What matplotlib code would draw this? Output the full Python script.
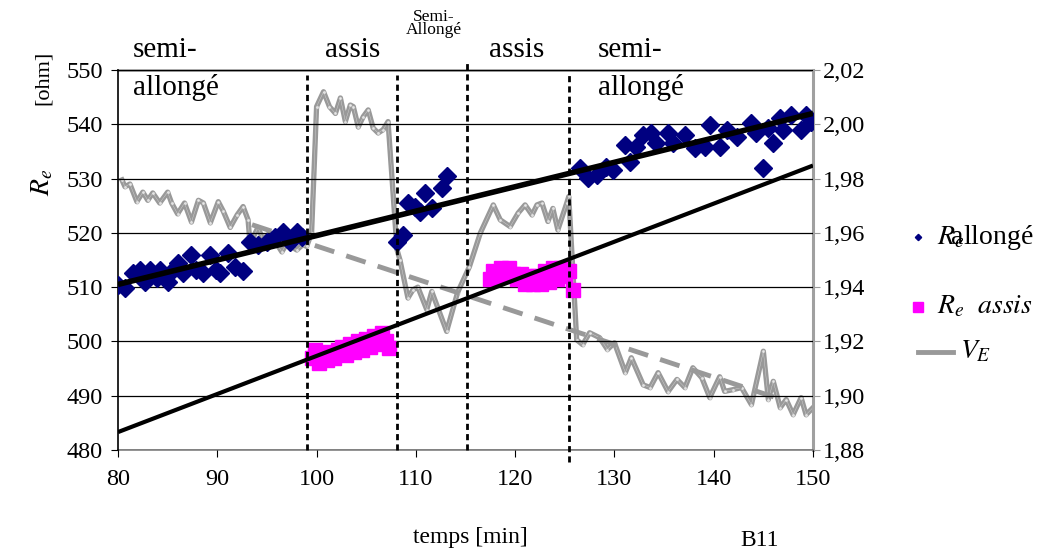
import matplotlib
matplotlib.use("Agg")
import matplotlib.pyplot as plt
from matplotlib.lines import Line2D
from matplotlib.ticker import FuncFormatter, MultipleLocator

plt.rcParams['font.family'] = ['Liberation Serif', 'DejaVu Serif']
plt.rcParams['mathtext.fontset'] = 'stix'

# R_e allongé (blue diamonds)
t_allonge = [80.0, 80.7, 81.5, 82.2, 82.7, 83.2, 83.9, 84.2, 85.0, 85.2, 86.0, 86.5,
             87.4, 87.9, 88.6, 89.3, 89.9, 90.3, 91.1, 91.8, 92.6, 93.3, 94.1, 95.0,
             95.8, 96.6, 97.3, 98.0, 98.5,
             108.1, 108.7, 109.2, 109.9, 110.4, 110.9, 111.6, 112.6, 113.1,
             126.5, 127.3, 128.2, 129.2, 129.9, 131.1, 131.6, 132.2, 132.9, 133.7,
             134.2, 135.4, 135.9, 137.1, 138.1, 139.1, 139.6, 140.6, 141.3, 142.3,
             143.8, 144.3, 145.0, 145.5, 146.0, 146.7, 147.0, 147.8, 148.8, 149.3, 149.8]
r_allonge = [510.4, 509.9, 512.6, 513.2, 511.0, 513.2, 511.7, 513.2, 511.0, 512.6, 514.4, 512.6,
             515.9, 513.2, 512.6, 515.9, 513.2, 512.6, 516.3, 513.8, 512.9, 518.4, 517.8, 518.4,
             519.3, 520.2, 518.4, 520.2, 519.3,
             518.4, 519.6, 525.5, 524.8, 523.9, 527.3, 524.6, 528.3, 530.4,
             532.0, 530.1, 530.7, 532.2, 531.6, 536.2, 533.1, 535.9, 538.0, 538.4,
             536.6, 538.4, 536.6, 538.0, 535.6, 535.9, 539.9, 535.9, 539.0, 537.7,
             540.2, 538.4, 532.0, 539.3, 536.6, 541.2, 539.0, 541.7, 539.0, 541.7, 540.5]

# R_e assis (magenta squares)
t_assis = [99.5, 99.8, 100.2, 100.6, 101.0, 101.4, 101.8, 102.2, 102.6, 103.0, 103.4,
           103.8, 104.2, 104.6, 105.0, 105.4, 105.8, 106.2, 106.6, 107.0, 107.3,
           117.5, 117.8, 118.2, 118.6, 119.0, 119.4, 119.8, 120.2, 120.6, 121.0, 121.4,
           121.8, 122.2, 122.6, 123.0, 123.4, 123.8, 124.2, 124.6, 125.0, 125.4, 125.8]
r_assis = [497.0, 498.5, 496.0, 497.5, 496.5, 498.0, 497.0, 498.5, 499.0, 497.5, 499.5,
           498.0, 500.0, 498.5, 500.5, 499.0, 501.0, 499.5, 501.5, 500.0, 498.8,
           511.5, 513.0, 512.0, 513.5, 512.0, 513.5, 512.5, 511.5, 512.5, 510.5, 512.0,
           510.5, 512.0, 510.5, 513.0, 511.0, 513.5, 511.5, 513.5, 512.0, 513.0, 509.5]

# V_E (right axis)
t_ve = [80.4, 80.7, 81.2, 81.9, 82.5, 83.0, 83.5, 84.2, 85.0, 85.4, 86.0, 86.7, 87.4, 88.1,
        88.6, 89.3, 90.1, 90.6, 91.3, 92.0, 92.6, 93.1, 93.3, 94.1, 94.6, 95.3, 96.5, 97.0,
        98.0, 98.6, 99.0, 99.5, 100.0, 100.7, 101.3, 101.9, 102.4, 102.9, 103.4, 103.7,
        104.2, 104.7, 105.2, 105.7, 106.2, 106.7, 107.2, 108.1, 108.4, 109.2, 109.7, 110.2,
        111.1, 111.6, 113.1, 114.2, 115.4, 116.5, 117.8, 118.5, 119.5, 120.3, 121.0, 121.7,
        122.2, 122.7, 123.3, 123.8, 124.3, 125.2, 125.4, 126.2, 126.8, 127.5, 128.5, 129.3,
        130.0, 131.1, 131.7, 132.9, 133.6, 134.4, 135.4, 136.3, 137.1, 137.9, 138.8, 139.6,
        140.6, 141.1, 141.9, 142.8, 143.8, 145.0, 145.5, 146.0, 146.7, 147.3, 148.0, 148.8,
        149.3, 150.0]
v_e = [1.9795, 1.977, 1.978, 1.9715, 1.975, 1.972, 1.9747, 1.971, 1.975, 1.971, 1.967,
       1.971, 1.964, 1.972, 1.971, 1.9637, 1.9715, 1.968, 1.962, 1.9666, 1.9697, 1.9648,
       1.956, 1.962, 1.9575, 1.960, 1.953, 1.956, 1.9537, 1.9556, 1.955, 1.960, 2.0065,
       2.012, 2.0065, 2.004, 2.0097, 2.001, 2.0071, 2.0065, 1.999, 2.0028, 2.0053, 1.9986,
       1.9968, 1.998, 2.001, 1.9538, 1.950, 1.936, 1.939, 1.940, 1.9317, 1.9384, 1.9237,
       1.938, 1.9476, 1.960, 1.9703, 1.9648, 1.9623, 1.9673, 1.9703, 1.9666, 1.9703, 1.971,
       1.9642, 1.969, 1.9611, 1.971, 1.9734, 1.9206, 1.9188, 1.9232, 1.9214, 1.917, 1.9195,
       1.9085, 1.914, 1.904, 1.903, 1.9085, 1.9015, 1.906, 1.903, 1.9103, 1.9066, 1.8993,
       1.907, 1.9016, 1.9022, 1.903, 1.8967, 1.9164, 1.8986, 1.9053, 1.8956, 1.8986, 1.893,
       1.8993, 1.893, 1.8956]

# trend lines
trend_t = [80, 150]
trend_allonge = [510.5, 542.0]
trend_assis = [483.3, 532.4]
trend_ve_t = [93.5, 146.5]
trend_ve = [1.963, 1.899]

# posture changes
change_t = [99.0, 108.1, 115.2, 125.4]
change_top = [549.0, 549.0, 551.8, 549.0]
change_bottom = [480.0, 480.0, 480.0, 477.8]

W, H = 1054, 552
fig = plt.figure(figsize=(W / 100, H / 100), dpi=100)
ax = fig.add_axes([118/W, 1-450/H, (813-118)/W, 380/H])
ax2 = ax.twinx()
ax.set_zorder(2)
ax.patch.set_visible(False)

ax.set_xlim(80, 150)
ax.set_ylim(480, 550)
ax2.set_ylim(1.88, 2.02)

ax.yaxis.set_major_locator(MultipleLocator(10))
ax.xaxis.set_major_locator(MultipleLocator(10))
ax2.yaxis.set_major_locator(MultipleLocator(0.02))
ax2.yaxis.set_major_formatter(FuncFormatter(lambda v, p: f"{v:.2f}".replace('.', ',')))
ax.grid(axis='y', color='black', lw=0.9)

for a in (ax, ax2):
    a.tick_params(labelsize=17.5, length=5, direction='out')
ax.tick_params(axis='x', pad=9)
ax.tick_params(axis='y', pad=6)
ax2.tick_params(axis='y', colors='#999999', labelcolor='black', pad=2)
for s in ('top', 'right', 'bottom'):
    ax.spines[s].set_visible(False)
ax2.spines['left'].set_visible(False)
ax2.spines['top'].set_color('#a0a0a0')
ax2.spines['top'].set_linewidth(2)
ax2.spines['right'].set_color('#a0a0a0')
ax2.spines['right'].set_linewidth(2.2)
ax2.spines['bottom'].set_color('#808080')
ax2.spines['bottom'].set_linewidth(1.2)
ax.spines['left'].set_linewidth(1.2)

# V_E on right axis: thick grey line, thin white trace with small open markers
ax2.plot(t_ve, v_e, color='#999999', lw=3.8)
ax2.plot(t_ve, v_e, color='white', lw=0.25, alpha=0.7, marker='o', ms=2.3,
         mfc='white', mec='#aaaaaa', mew=0.4)
ax2.plot(trend_ve_t, trend_ve, color='#999999', lw=3.5, dashes=(4.2, 2.6))

# resistance
ax.plot(t_allonge, r_allonge, ls='none', marker='D', ms=9.5, color='#000080', zorder=3)
ax.plot(t_assis, r_assis, ls='none', marker='s', ms=9.5, color='#ff00ff', zorder=3)
ax.plot(trend_t, trend_allonge, color='black', lw=4, zorder=4, solid_capstyle='butt')
ax.plot(trend_t, trend_assis, color='black', lw=3, zorder=4, solid_capstyle='butt')

for t, top, bot in zip(change_t, change_top, change_bottom):
    ax.plot([t, t], [bot, top], color='black', lw=2.0, dashes=(2.2, 1.5),
            clip_on=False, zorder=5)

# posture labels
big = 21
ax.text(81.5, 556.0, "semi-\nallongé", fontsize=big, va='top', ha='left',
        linespacing=1.5, clip_on=False)
ax.text(103.6, 556.0, "assis", fontsize=big, va='top', ha='center', clip_on=False)
ax.text(111.8, 561.3, "Semi-\nAllongé", fontsize=12.5, va='top', ha='center',
        linespacing=0.8, clip_on=False)
ax.text(120.1, 556.0, "assis", fontsize=big, va='top', ha='center', clip_on=False)
ax.text(128.3, 556.0, "semi-\nallongé", fontsize=big, va='top', ha='left',
        linespacing=1.5, clip_on=False)

fig.text(43/W, 1-78/H, "[ohm]", rotation=90, fontsize=16, ha='center', va='center')
fig.text(43/W, 1-182/H, r"$R_e$", rotation=90, fontsize=20, ha='center', va='center')
fig.text(470/W, 1-537/H, "temps [min]", fontsize=17, ha='center', va='center')
fig.text(760/W, 1-541/H, "B11", fontsize=17, ha='center', va='center')

# legend, drawn by hand to keep the uneven row spacing
fig.add_artist(Line2D([918/W], [1-237/H], ls='none', marker='D', ms=3.2, color='#000080'))
fig.add_artist(Line2D([918/W], [1-307/H], ls='none', marker='s', ms=6.5,
                      mfc='#ff00ff', mec='#ff00ff'))
fig.add_artist(Line2D([918/W, 953/W], [1-352/H, 1-352/H], color='#999999', lw=3.5))
fig.text(937/W, 1-237/H, r"$R_e\!\!\!\!$allongé", fontsize=20, va='center', ha='left')
fig.text(937/W, 1-307/H, r"$R_e\ \ assis$", fontsize=20, va='center', ha='left')
fig.text(960/W, 1-352/H, r"$V_E$", fontsize=20, va='center', ha='left')

fig.savefig("out.png", dpi=100)
